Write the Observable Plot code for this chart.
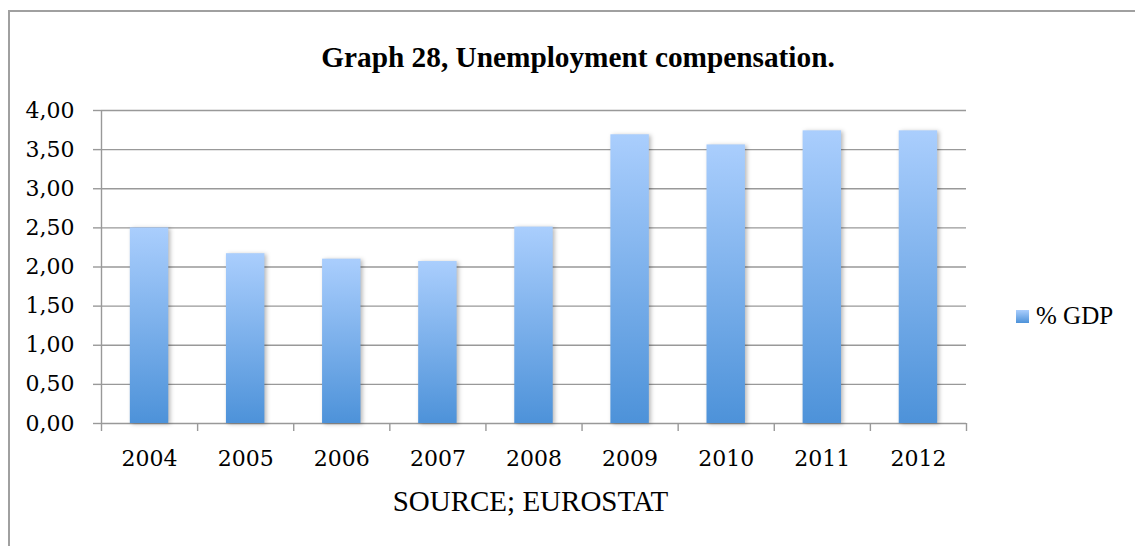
<!DOCTYPE html>
<html>
<head>
<meta charset="utf-8">
<script src="https://cdn.jsdelivr.net/npm/d3@7"></script>
<script src="https://cdn.jsdelivr.net/npm/@observablehq/plot@0.6"></script>
<style>
  html, body { margin: 0; padding: 0; background: #fff; }
  #wrap { position: relative; width: 1135px; height: 546px; overflow: hidden; background: #fff; }
  #frame { position: absolute; left: 8px; top: 10px; width: 1200px; height: 600px; border: 2px solid #a0a0a0; box-sizing: border-box; }
  .times { font-family: "Liberation Serif", "Times New Roman", Times, "DejaVu Serif", serif; }
  #title { position: absolute; left: 0; top: 40px; width: 1156px; text-align: center; font-weight: bold; font-size: 29.3px; line-height: 34px; color: #000; }
  #chart { position: absolute; left: 0; top: 0; }
  #source { position: absolute; left: 0; top: 485px; width: 1061px; text-align: center; font-size: 29px; line-height: 32px; color: #000; }
  #legend { position: absolute; left: 1016px; top: 301px; font-size: 25px; line-height: 30px; color: #000; display: flex; align-items: center; }
  #legend .sw { width: 13px; height: 13px; background: linear-gradient(#aacefd, #4d92d9); margin-right: 7px; }
  #chart g[aria-label="rect"] rect { filter: drop-shadow(2px 1px 2px rgba(0,0,0,0.28)); }
</style>
</head>
<body>
<div id="wrap">
  <div id="frame"></div>
  <div id="chart"></div>
  <div id="title" class="times">Graph 28, Unemployment compensation.</div>
  <div id="legend" class="times"><div class="sw"></div><span>% GDP</span></div>
  <div id="source" class="times">SOURCE; EUROSTAT</div>
</div>
<script>
const years = [2004, 2005, 2006, 2007, 2008, 2009, 2010, 2011, 2012];
const values = [2.50, 2.17, 2.10, 2.07, 2.51, 3.69, 3.56, 3.74, 3.74];
const yTicks = [0, 0.5, 1, 1.5, 2, 2.5, 3, 3.5, 4];
const seriesName = "% GDP";

const data = years.map((year, i) => ({year, value: values[i]}));
const boundaries = years.map(y => y - 0.5).concat([years[years.length - 1] + 0.5]);
const fmt = d => d3.format(".2f")(d).replace(".", ",");

const chart = Plot.plot({
  width: 1135,
  height: 546,
  marginLeft: 101,
  marginRight: 169,
  marginTop: 110,
  marginBottom: 123,
  style: {fontFamily: "'DejaVu Serif', serif", fontSize: "22px", color: "#000", background: "transparent", overflow: "visible"},
  x: {domain: [years[0] - 0.5, years[years.length - 1] + 0.5]},
  y: {domain: [0, 4]},
  marks: [
    Plot.gridY(yTicks, {stroke: "#999", strokeOpacity: 1, strokeWidth: 1.4}),
    Plot.ruleX([boundaries[0]], {stroke: "#999", strokeWidth: 1.4}),
    Plot.rectY(data, {
      x1: d => d.year - 0.2,
      x2: d => d.year + 0.2,
      y: "value",
      fill: "url(#barGrad)"
    }),
    Plot.axisY(yTicks, {tickSize: 8, tickPadding: 19, tickFormat: fmt, stroke: "#999", strokeWidth: 1.4, label: null, fill: "#000"}),
    Plot.axisX(boundaries, {tickSize: 8, tickFormat: () => "", stroke: "#999", strokeWidth: 1.4, label: null}),
    Plot.axisX(years, {tickSize: 0, tickPadding: 27, tickFormat: d => String(d), label: null, fill: "#000"})
  ]
});

const ns = "http://www.w3.org/2000/svg";
const defs = document.createElementNS(ns, "defs");
defs.innerHTML = '<linearGradient id="barGrad" x1="0" y1="0" x2="0" y2="1"><stop offset="0" stop-color="#aacefd"/><stop offset="1" stop-color="#4d92d9"/></linearGradient>';
chart.insertBefore(defs, chart.firstChild);
document.getElementById("chart").appendChild(chart);
document.querySelector("#legend span").textContent = seriesName;
</script>
</body>
</html>
